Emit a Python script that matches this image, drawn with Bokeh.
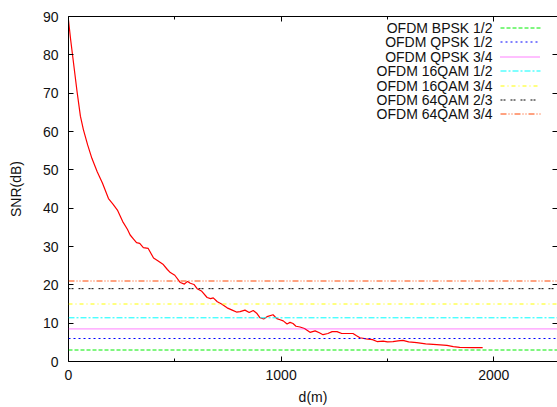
from bokeh.plotting import figure
from bokeh.models import Span, Label, Arrow, LinearAxis, Range1d, FixedTicker, CustomJSTickFormatter
from bokeh.embed import file_html
from bokeh.resources import INLINE

# ---- data ----
d_m = [0, 10, 20, 30, 40, 56, 70, 90, 110, 135,
       160, 188, 210, 230, 255, 277, 290, 305, 320, 335,
       352, 375, 400, 420, 446, 465, 479, 500, 526, 545,
       560, 573, 590, 605, 625, 652, 668, 681, 700, 720,
       746, 770, 790, 807, 830, 850, 869, 885, 901, 918,
       934, 962, 980, 995, 1010, 1028, 1042, 1056, 1070, 1089,
       1110, 1136, 1160, 1180, 1197, 1220, 1240, 1263, 1285, 1310,
       1338, 1355, 1371, 1400, 1430, 1451, 1480, 1500, 1526, 1550,
       1573, 1600, 1638, 1680, 1732, 1780, 1810, 1840, 1900, 1948]
snr_db = [89, 84, 79.5, 75, 70.5, 64, 60.5, 56.5, 53, 49.5,
          46.5, 42.5, 41, 39.5, 36.5, 34.5, 33, 32, 31, 30.8,
          29.7, 29.5, 27, 26.3, 25.3, 24, 23.2, 22.5, 20.6, 20.2,
          20.9, 20.4, 20.1, 19, 18.4, 16.7, 16.4, 16.6, 15.6, 15.0,
          14, 13.4, 12.9, 13.0, 13.4, 12.8, 13.3, 12.6, 11.4, 11.1,
          11.7, 12.2, 11.2, 10.9, 10.6, 9.8, 10.2, 9.9, 9.2, 9.0,
          8.6, 7.6, 8.0, 7.5, 7.0, 7.3, 7.8, 7.8, 7.3, 7.3,
          7.3, 6.7, 6.2, 5.9, 5.7, 5.2, 5.3, 5.1, 5.2, 5.4,
          5.5, 5.1, 4.9, 4.6, 4.4, 4.2, 3.9, 3.7, 3.6, 3.6]

mode_labels = ["OFDM BPSK 1/2", "OFDM QPSK 1/2", "OFDM QPSK 3/4", "OFDM 16QAM 1/2",
               "OFDM 16QAM 3/4", "OFDM 64QAM 2/3", "OFDM 64QAM 3/4"]
mode_thresholds = [3, 6, 8.5, 11.4, 15, 19, 21]

x_ticks = [0, 1000, 2000]
x_minor = [500, 1500]
y_ticks = [0, 10, 20, 30, 40, 50, 60, 70, 80, 90]

# ---- styles ----
colors = ["#00ee00", "#0000ff", "#ff00ff", "#00ffff", "#ffff00", "#000000", "#ff4500"]
dashes = ["4 2", "2 3", "1 1", "6 2 2 2", "4 3 1 3", "2 1 2 5", "6 2 1 2 1 2"]

FONT = "Liberation Sans"
FS = "14px"

p = figure(width=557, height=407, x_range=Range1d(0, 2300), y_range=Range1d(0, 90),
           output_backend="svg", toolbar_location=None,
           min_border_left=68, min_border_right=0, min_border_top=16, min_border_bottom=45)
p.outline_line_color = None
p.xgrid.visible = False
p.ygrid.visible = False

blank = CustomJSTickFormatter(code="return ''")

def style_axis(ax, labels=True):
    ax.axis_line_color = "black"
    ax.axis_line_width = 1
    ax.major_tick_in = 5
    ax.major_tick_out = 0
    ax.minor_tick_in = 3
    ax.minor_tick_out = 0
    ax.major_tick_line_color = "black"
    ax.minor_tick_line_color = "black"
    ax.major_label_text_font = FONT
    ax.major_label_text_font_size = FS
    ax.major_label_text_color = "#111111"
    if not labels:
        ax.formatter = blank
        ax.major_label_standoff = 0
    ax.axis_label_text_font = FONT
    ax.axis_label_text_font_size = FS
    ax.axis_label_text_font_style = "normal"
    ax.axis_label_text_color = "#111111"

xax = p.xaxis[0]
xax.ticker = FixedTicker(ticks=x_ticks, minor_ticks=x_minor)
xax.axis_label = "d(m)"
style_axis(xax)
xax.major_label_standoff = 8
xax.axis_label_standoff = 6

yax = p.yaxis[0]
yax.ticker = FixedTicker(ticks=y_ticks)
yax.axis_label = "SNR(dB)"
style_axis(yax)
yax.major_label_standoff = 10
yax.axis_label_standoff = 16

top = LinearAxis(ticker=FixedTicker(ticks=x_ticks, minor_ticks=x_minor))
style_axis(top, labels=False)
p.add_layout(top, "above")

right = LinearAxis(ticker=FixedTicker(ticks=y_ticks))
style_axis(right, labels=False)
right.axis_line_color = None
p.add_layout(right, "right")

# threshold lines
for thr, col, dash in zip(mode_thresholds, colors, dashes):
    p.add_layout(Span(location=thr, dimension="width", line_color=col,
                      line_dash=dash, line_width=1))

# SNR curve
p.line(d_m, snr_db, line_color="#ff0000", line_width=1.2)

# gnuplot-style legend (label right, sample left)
for i, (lab, col, dash) in enumerate(zip(mode_labels, colors, dashes)):
    yy = 346 - 12 - round(i * 14.4)
    p.add_layout(Label(x=424, y=yy, x_units="screen", y_units="screen", text=lab,
                       text_align="right", text_baseline="middle",
                       text_font=FONT, text_font_size=FS, text_color="#111111"))
    p.add_layout(Arrow(end=None, start=None, x_start=432, y_start=yy - 0.5,
                       x_end=472, y_end=yy - 0.5,
                       start_units="screen", end_units="screen",
                       line_color=col, line_dash=dash, line_width=1))

open("out.html", "w").write(file_html(p, INLINE))
